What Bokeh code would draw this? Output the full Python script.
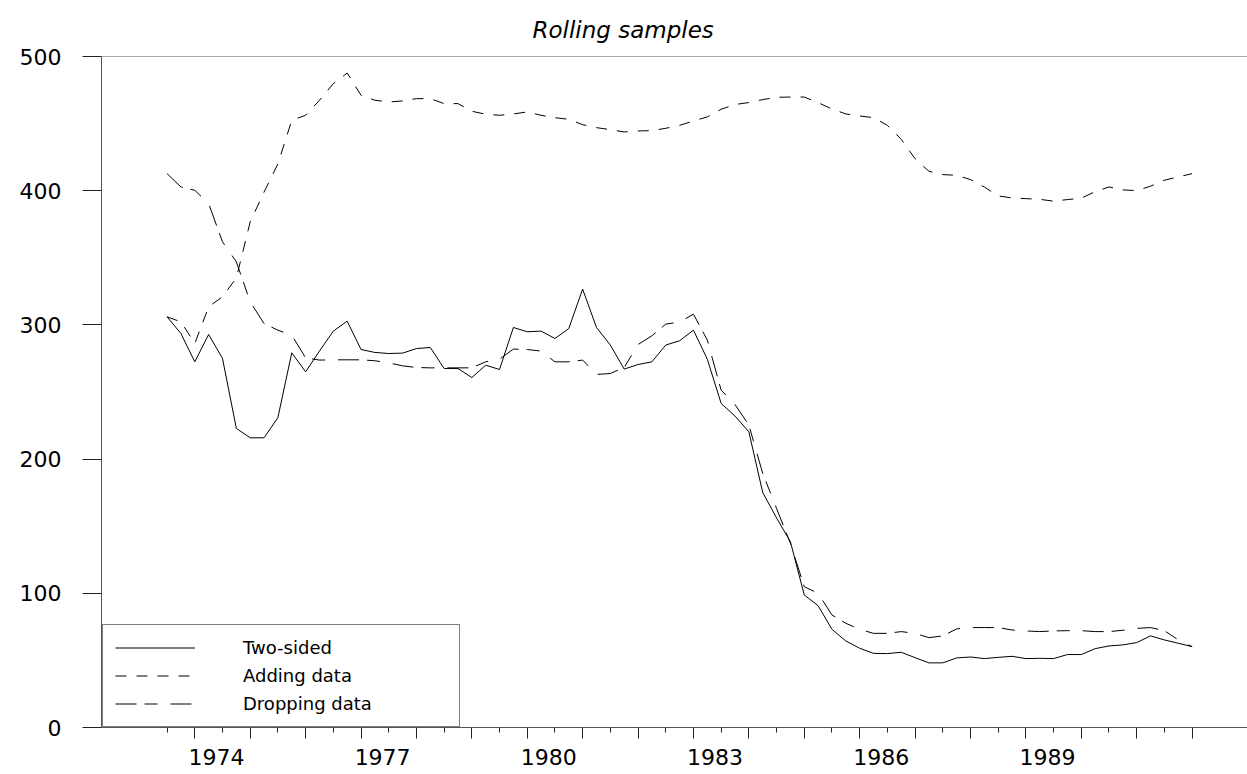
from bokeh.plotting import figure
from bokeh.models import (Range1d, LinearAxis, FixedTicker, CustomJSTickFormatter,
                          Legend, LegendItem, ColumnDataSource)
from bokeh.embed import file_html
from bokeh.resources import INLINE

# ---------------- data ----------------
first_year = 1973
first_quarter = 3
n_obs = 75
periods = []
yy, qq = first_year, first_quarter
for _ in range(n_obs):
    periods.append((yy, qq))
    qq += 1
    if qq > 4:
        qq, yy = 1, yy + 1
t = [y + (q - 1) / 4 for (y, q) in periods]

two_sided = [
    306.0, 293.6, 272.5, 292.9, 275.0, 222.9, 215.9, 215.9, 231.0, 279.2,
    265.1, 280.5, 295.4, 302.8, 281.7, 279.5, 278.7, 279.0, 282.4, 283.2,
    267.5, 267.5, 260.8, 270.0, 266.8, 298.1, 294.9, 295.4, 289.9, 297.3,
    326.7, 298.1, 285.0, 267.1, 270.5, 272.5, 285.0, 288.2, 296.1, 274.5,
    241.5, 232.1, 220.4, 175.2, 156.2, 138.5, 98.8, 90.8, 73.2, 64.5,
    59.1, 55.3, 55.1, 56.1, 52.1, 48.2, 48.2, 51.9, 52.6, 51.4,
    52.3, 53.1, 51.4, 51.6, 51.4, 54.4, 54.4, 58.8, 60.8, 61.6,
    63.3, 68.3, 65.3, 62.8, 60.3]

adding_data = [
    306.0, 302.3, 286.2, 313.5, 321.0, 335.0, 376.8, 399.0, 420.0, 452.5,
    456.2, 467.4, 479.8, 487.7, 471.1, 467.4, 466.1, 466.9, 468.6, 468.6,
    464.9, 464.9, 459.2, 457.0, 456.2, 457.2, 458.7, 456.2, 454.4, 453.2,
    449.2, 447.0, 445.5, 443.8, 444.5, 444.8, 446.5, 448.7, 452.0, 455.0,
    460.7, 464.2, 465.7, 467.9, 469.6, 469.8, 469.8, 465.6, 460.9, 457.2,
    455.7, 454.4, 448.7, 438.3, 423.9, 414.5, 412.0, 411.5, 408.3, 402.8,
    396.1, 394.6, 394.1, 393.6, 392.2, 393.4, 394.4, 399.3, 402.8, 400.6,
    400.1, 403.4, 407.8, 410.3, 412.7]

dropping_data = [
    412.7, 402.8, 400.3, 390.4, 361.9, 347.0, 317.2, 301.0, 296.1, 292.4,
    275.5, 273.8, 274.0, 274.0, 274.0, 273.3, 271.8, 269.5, 268.3, 268.0,
    268.0, 268.0, 268.0, 272.5, 274.5, 282.0, 281.7, 280.5, 272.5, 272.5,
    273.8, 263.1, 263.8, 268.3, 285.4, 291.9, 300.6, 302.1, 308.0, 288.7,
    251.4, 240.7, 225.4, 189.4, 163.3, 137.2, 105.0, 100.0, 83.9, 77.7,
    73.2, 70.2, 70.2, 71.5, 70.2, 67.0, 68.3, 73.5, 74.5, 74.5,
    74.5, 72.7, 72.0, 71.5, 72.0, 72.2, 72.2, 71.5, 71.5, 72.5,
    73.9, 74.5, 72.2, 65.3, 60.3]

series_names = ["Two-sided", "Adding data", "Dropping data"]
label_years = [1974, 1977, 1980, 1983, 1986, 1989]
year_ticks = list(range(1974, 1993))
half_year_ticks = [y + 0.5 for y in range(1973, 1992)]
y_ticks = [0, 100, 200, 300, 400, 500]

# ---------------- style ----------------
FONT = "DejaVu Sans"
AXIS_COL = "#555555"
label_shift = 0.39   # year labels sit a little right of the year tick

src = ColumnDataSource(dict(t=t, two=two_sided, add=adding_data, drop=dropping_data))

p = figure(width=1247, height=774, output_backend="svg", toolbar_location=None,
           x_range=Range1d(1972.316, 1993.0), y_range=Range1d(-34.97, 500),
           x_axis_location=None, y_axis_location=None,
           min_border_left=101, min_border_right=0, min_border_top=55, min_border_bottom=0,
           background_fill_color="white", border_fill_color="white",
           outline_line_color=None)
p.grid.visible = False

# title
p.title.text = "Rolling samples"
p.title.text_font = FONT
p.title.text_font_style = "italic"
p.title.text_font_size = "23px"
p.title.text_color = "black"
p.title.align = "left"
p.title.offset = 431
p.title.standoff = 28

# left axis
yaxis = LinearAxis(ticker=FixedTicker(ticks=y_ticks, minor_ticks=[]), bounds=(0, 500),
                   axis_line_color=AXIS_COL, axis_line_width=1,
                   major_tick_line_color="#222222", major_tick_out=19, major_tick_in=0,
                   minor_tick_line_color=None, major_label_standoff=21,
                   major_label_text_font=FONT, major_label_text_font_size="22px",
                   major_label_text_color="black")
p.add_layout(yaxis, "left")

# top border line
topaxis = LinearAxis(ticker=FixedTicker(ticks=[], minor_ticks=[]), fixed_location=500,
                     axis_line_color=AXIS_COL, major_tick_line_color=None,
                     minor_tick_line_color=None,
                     formatter=CustomJSTickFormatter(code="return ''"))
p.add_layout(topaxis, "above")

# bottom axis with year / half-year ticks, drawn at y = 0
xticks_axis = LinearAxis(ticker=FixedTicker(ticks=year_ticks, minor_ticks=half_year_ticks),
                         fixed_location=0,
                         axis_line_color=AXIS_COL, axis_line_width=1,
                         major_tick_line_color="#222222", major_tick_out=11, major_tick_in=0,
                         minor_tick_line_color="#222222", minor_tick_out=5, minor_tick_in=0,
                         formatter=CustomJSTickFormatter(code="return ''"))
p.add_layout(xticks_axis, "below")

# bottom year labels
xlabel_axis = LinearAxis(ticker=FixedTicker(ticks=[y + label_shift for y in label_years],
                                            minor_ticks=[]),
                         fixed_location=0,
                         axis_line_color=None, major_tick_line_color=None,
                         minor_tick_line_color=None, major_tick_out=0, major_tick_in=0,
                         major_label_standoff=21,
                         major_label_text_font=FONT, major_label_text_font_size="22px",
                         major_label_text_color="black",
                         formatter=CustomJSTickFormatter(code="return Math.floor(tick).toString()"))
p.add_layout(xlabel_axis, "below")

r1 = p.line("t", "two", source=src, line_color="black", line_width=1)
r2 = p.line("t", "add", source=src, line_color="black", line_width=1, line_dash="11 10")
r3 = p.line("t", "drop", source=src, line_color="black", line_width=1, line_dash="21 8 13 13")

legend = Legend(items=[LegendItem(label=series_names[0], renderers=[r1]),
                       LegendItem(label=series_names[1], renderers=[r2]),
                       LegendItem(label=series_names[2], renderers=[r3])],
                location=(1, 47), orientation="vertical", margin=0,
                padding=12, spacing=7, glyph_width=80, glyph_height=21,
                label_height=21, label_width=204, label_standoff=48,
                label_text_font=FONT, label_text_font_size="18px", label_text_color="black",
                border_line_color="black", border_line_width=1,
                background_fill_color="white", background_fill_alpha=1.0)
p.add_layout(legend, "center")

open("out.html", "w").write(file_html(p, INLINE))
